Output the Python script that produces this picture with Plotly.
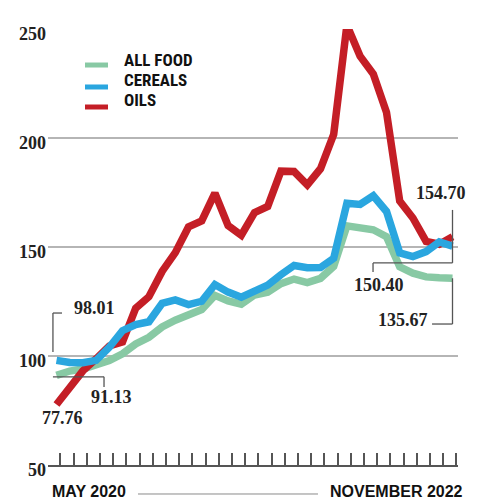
import plotly.graph_objects as go

months = ["May 2020", "Jun 2020", "Jul 2020", "Aug 2020", "Sep 2020", "Oct 2020", "Nov 2020", "Dec 2020",
          "Jan 2021", "Feb 2021", "Mar 2021", "Apr 2021", "May 2021", "Jun 2021", "Jul 2021", "Aug 2021",
          "Sep 2021", "Oct 2021", "Nov 2021", "Dec 2021", "Jan 2022", "Feb 2022", "Mar 2022", "Apr 2022",
          "May 2022", "Jun 2022", "Jul 2022", "Aug 2022", "Sep 2022", "Oct 2022", "Nov 2022"]
all_food = [91.13, 93.1, 94.0, 95.9, 97.9, 101.0, 105.5, 108.6, 113.3, 116.4, 118.9, 121.3, 127.8, 125.3,
            123.8, 128.0, 129.2, 133.2, 135.3, 133.7, 135.6, 141.1, 159.7, 158.4, 157.9, 154.7, 140.9,
            138.0, 136.3, 135.9, 135.67]
cereals = [98.01, 97.0, 96.9, 98.0, 104.0, 111.6, 114.4, 115.7, 124.2, 125.7, 123.6, 125.1, 132.8, 129.3,
           127.0, 130.0, 132.5, 137.3, 141.5, 140.5, 140.6, 144.8, 170.1, 169.5, 173.5, 166.3, 147.3,
           145.6, 147.9, 152.3, 150.40]
oils = [77.76, 86.0, 93.2, 98.7, 104.6, 106.4, 121.9, 127.2, 138.8, 147.4, 159.2, 162.0, 174.7, 159.8,
        155.4, 165.8, 168.6, 184.8, 184.6, 178.5, 185.9, 201.7, 251.8, 237.5, 229.3, 211.8, 171.1,
        163.3, 152.6, 151.3, 154.70]
series_names = ["ALL FOOD", "CEREALS", "OILS"]
y_ticks = [50, 100, 150, 200, 250]
date_labels = ["MAY 2020", "NOVEMBER 2022"]

GREEN = "#88c9a4"
BLUE = "#2aa6df"
RED = "#c41e26"
GREY = "#555555"
SERIF = "Liberation Serif, DejaVu Serif, serif"
SANS = "Liberation Sans, Arial, sans-serif"
NARROW = "Liberation Sans Narrow, Arial Narrow, Roboto Condensed, Liberation Sans, sans-serif"

idx = list(range(len(months)))
last = idx[-1]

fig = go.Figure()
for vals, col, name in [(all_food, GREEN, series_names[0]), (oils, RED, series_names[2]),
                        (cereals, BLUE, series_names[1])]:
    fig.add_trace(go.Scatter(x=idx, y=vals, mode="lines", name=name, text=months,
                             line=dict(color=col, width=7.5), showlegend=False,
                             hovertemplate="%{text}: %{y:.2f}<extra>" + name + "</extra>"))

shapes = []
def seg(x0, y0, x1, y1, ref="data", color=GREY, width=1.3):
    xr, yr = ("x", "y") if ref == "data" else ("paper", "paper")
    shapes.append(dict(type="line", xref=xr, yref=yr, x0=x0, y0=y0, x1=x1, y1=y1,
                       line=dict(color=color, width=width)))

# bracket 98.01 (cereals start)
seg(-0.27, cereals[0] + 3.8, -0.27, cereals[0] + 21.7)
seg(-0.27, cereals[0] + 21.7, 0.42, cereals[0] + 21.7)
# bracket 91.13 (all food start)
seg(-0.27, all_food[0] - 0.7, 3.6, all_food[0] - 0.7)
seg(3.6, all_food[0] - 0.7, 3.6, all_food[0] - 5.3)
# bracket 154.70 / 150.40
seg(last, oils[-1] + 12.3, last, cereals[-1] - 7.7)
seg(last - 6.02, cereals[-1] - 7.7, last, cereals[-1] - 7.7)
seg(last - 6.02, cereals[-1] - 7.7, last - 6.02, cereals[-1] - 11.9)
# bracket 135.67
seg(last, all_food[-1], last, all_food[-1] - 21)
seg(last - 1.55, all_food[-1] - 21, last, all_food[-1] - 21)

# legend
leg_y_line = [0.9174, 0.8670, 0.8211]
leg_y_text = [0.9289, 0.8830, 0.8372]
for col, yl in zip([GREEN, BLUE, RED], leg_y_line):
    seg(0.0902, yl, 0.1463, yl, ref="paper", color=col, width=5)
# bottom rule between dates
seg(0.2195, -0.0665, 0.6585, -0.0665, ref="paper", color="#8a8a8a", width=1)

annotations = []
def num(text, x, y, xanchor="center"):
    annotations.append(dict(text=text, x=x, y=y, xref="x", yref="y", showarrow=False,
                            xanchor=xanchor, yanchor="middle",
                            font=dict(family=SERIF, size=18, color="#222", weight="bold")))

num(f"{cereals[0]:.2f}", 1.17, cereals[0] + 23.8, xanchor="left")
num(f"{all_food[0]:.2f}", 4.2, all_food[0] - 9.9)
num(f"{oils[0]:.2f}", 0.42, oils[0] - 6.2)
num(f"{oils[-1]:.2f}", last - 0.9, oils[-1] + 20.1)
num(f"{cereals[-1]:.2f}", last - 5.6, cereals[-1] - 17.8)
num(f"{all_food[-1]:.2f}", last - 1.7, all_food[-1] - 19.2, xanchor="right")

for name, yt in zip(series_names, leg_y_text):
    annotations.append(dict(text=name, x=0.1805, y=yt, xref="paper", yref="paper", showarrow=False,
                            xanchor="left", yanchor="middle",
                            font=dict(family=NARROW, size=17, color="#111", weight="bold")))
annotations.append(dict(text=date_labels[0], x=0.0049, y=-0.0619, xref="paper", yref="paper",
                        showarrow=False, xanchor="left", yanchor="middle",
                        font=dict(family=SANS, size=16, color="#111", weight="bold")))
annotations.append(dict(text=date_labels[1], x=1.017, y=-0.0619, xref="paper", yref="paper",
                        showarrow=False, xanchor="right", yanchor="middle",
                        font=dict(family=SANS, size=16, color="#111", weight="bold")))

fig.update_layout(
    width=477, height=500,
    margin=dict(l=48, r=19, t=29, b=35),
    paper_bgcolor="white", plot_bgcolor="white",
    shapes=shapes, annotations=annotations,
    showlegend=False,
    xaxis=dict(range=[-0.644, 30.417], showgrid=False, zeroline=False,
               showline=True, linecolor=GREY, linewidth=1.6,
               ticks="inside", ticklen=12, tickwidth=1.5, tickcolor=GREY,
               tickvals=[i + 0.3 for i in idx], showticklabels=False),
    yaxis=dict(range=[50, 250], tickvals=y_ticks, showgrid=True, gridcolor="#b5b5b5",
               gridwidth=1.5, zeroline=False, showline=False, ticks="",
               ticklabelshift=5, ticklabelstandoff=1,
               tickfont=dict(family=SERIF, size=18, color="#222", weight="bold")),
)

fig.write_html("out.html")
